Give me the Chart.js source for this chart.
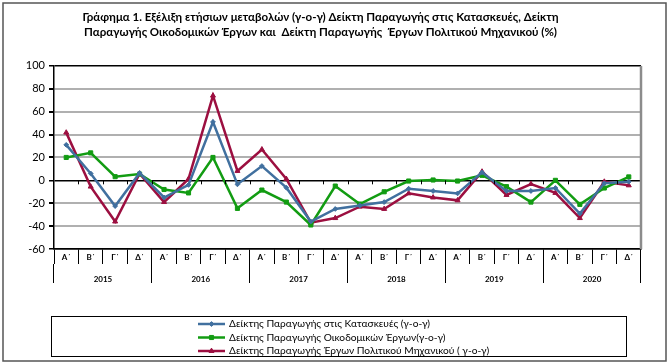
<!DOCTYPE html>
<html>
<head>
<meta charset="utf-8">
<script src="https://cdn.jsdelivr.net/npm/chart.js@4/dist/chart.umd.min.js"></script>
<style>
    body { margin: 0; background: #fff; }
    #wrap { position: relative; width: 669px; height: 364px; }
</style>
</head>
<body>
<div id="wrap"><canvas id="chart-construction" width="669" height="364"></canvas></div>
<script>
const quarters = ["Α΄", "Β΄", "Γ΄", "Δ΄"];
const years = ["2015", "2016", "2017", "2018", "2019", "2020"];
const categories = years.flatMap(y => quarters.map(q => q + " " + y));

const constructionIdx = [31, 6, -22.5, 6.4, -15, -4, 51, -3.5, 12.5, -6.4, -36, -25,
    -22, -19, -7.3, -9.3, -11.4, 7, -9.3, -9.3, -6.7, -29, -2.6, -1.2];
const buildingIdx = [20, 24, 3.2, 5.5, -8, -11, 20, -24.5, -8.5, -19, -39, -5,
    -20.7, -10, -0.6, 0.3, -0.6, 4.4, -5.5, -19, 0, -21, -6.7, 3];
const civilEngIdx = [41.7, -5.5, -36, 5.8, -19, 1.2, 74, 8.2, 27, 1.2, -37, -33,
    -23, -25, -11.4, -15, -17.5, 7.6, -12.8, -3.2, -11, -33, -1.2, -4.4];

const seriesNames = [
    "Δείκτης Παραγωγής στις Κατασκευές (γ-ο-γ)",
    "Δείκτης Παραγωγής Οικοδομικών Έργων(γ-ο-γ)",
    "Δείκτης Παραγωγής Έργων Πολιτικού Μηχανικού ( γ-ο-γ)"
];
const titleLines = [
    "Γράφημα 1. Εξέλιξη ετήσιων μεταβολών (γ-ο-γ) Δείκτη Παραγωγής στις Κατασκευές, Δείκτη",
    "Παραγωγής Οικοδομικών Έργων και  Δείκτη Παραγωγής  Έργων Πολιτικού Μηχανικού (%)"
];

const FONT = "Lato, 'Open Sans', sans-serif";

function makeSeries(label, data, color, style, radius) {
    return {
        label: label,
        data: data,
        borderColor: color,
        backgroundColor: color,
        borderWidth: 2.5,
        pointStyle: style,
        pointRadius: radius,
        pointHoverRadius: radius,
        pointBorderWidth: 1,
        tension: 0,
        xAxisID: "x",
    };
}

// frame, plot border, zero-line ticks and the legend box
const extrasPlugin = {
    id: "extras",
    afterDraw(chart) {
        const ctx = chart.ctx;
        const area = chart.chartArea;
        const x = chart.scales.x;
        const y = chart.scales.y;
        ctx.save();

        // right border of plot area
        ctx.strokeStyle = "#8c8c8c";
        ctx.lineWidth = 2.5;
        ctx.beginPath();
        ctx.moveTo(area.right, area.top);
        ctx.lineTo(area.right, area.bottom);
        ctx.stroke();

        // little ticks hanging from the zero line
        const y0 = y.getPixelForValue(0);
        ctx.strokeStyle = "#000";
        ctx.lineWidth = 1;
        ctx.beginPath();
        for (let i = 1; i < categories.length; i++) {
            const px = Math.round(x.getPixelForValue(i - 0.5)) + 0.5;
            ctx.moveTo(px, y0);
            ctx.lineTo(px, y0 + 4);
        }
        ctx.stroke();

        // legend
        ctx.strokeStyle = "#000";
        ctx.lineWidth = 1;
        ctx.strokeRect(51.5, 316.5, 575, 40);
        ctx.font = "10.2px " + FONT;
        ctx.textBaseline = "middle";
        chart.data.datasets.forEach((ds, i) => {
            const ly = 324 + i * 13.5;
            ctx.strokeStyle = ds.borderColor;
            ctx.lineWidth = 2.5;
            ctx.beginPath();
            ctx.moveTo(198, ly);
            ctx.lineTo(225, ly);
            ctx.stroke();
            ctx.fillStyle = ds.backgroundColor;
            ctx.lineWidth = 1;
            Chart.helpers.drawPoint(ctx, { pointStyle: ds.pointStyle, radius: ds.pointRadius, borderWidth: 1 }, 211.5, ly);
            ctx.fillStyle = "#000";
            ctx.fillText(ds.label, 229, ly);
        });

        // outer frame
        ctx.strokeStyle = "#555";
        ctx.lineWidth = 1.5;
        ctx.strokeRect(3, 3, 663, 358);
        ctx.restore();
    }
};

const config = {
    type: "line",
    data: {
        labels: categories,
        datasets: [
            makeSeries(seriesNames[0], constructionIdx, "#41709f", "rectRot", 2.4),
            makeSeries(seriesNames[1], buildingIdx, "#129c12", "rect", 2.9),
            makeSeries(seriesNames[2], civilEngIdx, "#9c0f40", "triangle", 2.9),
        ],
    },
    options: {
        responsive: false,
        animation: false,
        events: [],
        layout: { padding: { left: 0, right: 28, top: 0, bottom: 81 } },
        plugins: {
            legend: { display: false },
            tooltip: { enabled: false },
            title: {
                display: true,
                text: titleLines,
                color: "#000",
                font: { family: FONT, size: 11.5, weight: "bold", lineHeight: 1.3 },
                padding: { top: 10, bottom: 26 },
            },
        },
        scales: {
            x: {
                type: "category",
                position: "bottom",
                offset: true,
                afterFit(scale) { scale.height = 15; },
                grid: { offset: true, drawOnChartArea: false, tickLength: 15, color: "#000", lineWidth: 1 },
                border: { display: true, color: "#000", width: 1.5 },
                ticks: {
                    color: "#000",
                    padding: -11,
                    maxRotation: 0,
                    autoSkip: false,
                    font: { family: FONT, size: 8, weight: "bold" },
                    callback(value, index) { return quarters[index % 4]; },
                },
            },
            x2: {
                type: "category",
                position: "bottom",
                labels: years,
                offset: true,
                afterFit(scale) { scale.height = 19; },
                grid: { offset: true, drawOnChartArea: false, tickLength: 19, color: "#000", lineWidth: 1 },
                border: { display: false },
                ticks: {
                    color: "#000",
                    padding: -8.5,
                    maxRotation: 0,
                    font: { family: FONT, size: 8, weight: "bold" },
                },
            },
            y: {
                min: -60,
                max: 100,
                afterFit(scale) { scale.width = 54; },
                ticks: {
                    stepSize: 20,
                    color: "#000",
                    padding: 4,
                    font: { family: FONT, size: 11 },
                },
                grid: {
                    color: c => (c.tick.value === 0 || c.tick.value === 100 || c.tick.value === -60) ? "#000" : "#b0b0b0",
                    lineWidth: c => (c.tick.value === 0 || c.tick.value === 100 || c.tick.value === -60) ? 1.5 : 2,
                    tickColor: "#000",
                    tickLength: 5,
                },
                border: { display: true, color: "#000", width: 1.5 },
            },
        },
    },
    plugins: [extrasPlugin],
};

const chart = new Chart(document.getElementById("chart-construction").getContext("2d"), config);
</script>
</body>
</html>
